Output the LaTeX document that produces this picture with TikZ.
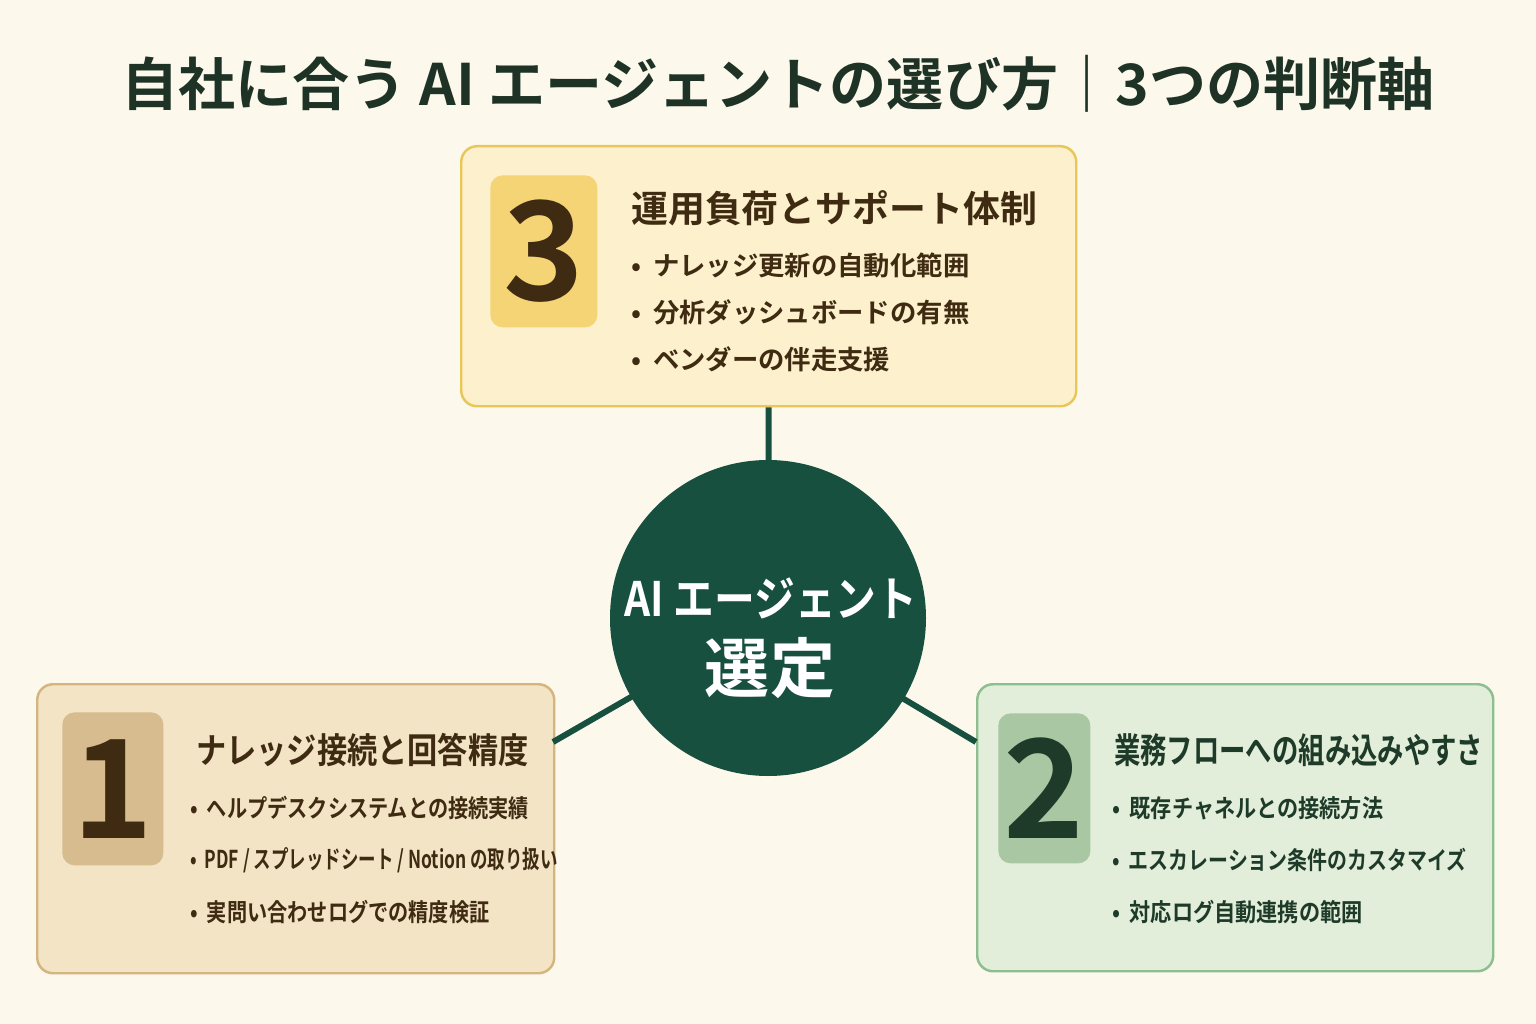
\documentclass[tikz,border=0pt]{standalone}
\usepackage{fontspec}
\setmainfont{Noto Sans CJK JP}[BoldFont={Noto Sans CJK JP Bold}]
\usetikzlibrary{arrows.meta}
\definecolor{bgcream}{HTML}{FCF8EC}
\definecolor{deepgreen}{HTML}{17503F}
\definecolor{titleink}{HTML}{1E3326}
\definecolor{brownink}{HTML}{3F2A12}
\definecolor{greenink}{HTML}{1E3B2A}
\definecolor{edge3}{HTML}{E8C659}
\definecolor{fill3}{HTML}{FCF1CC}
\definecolor{num3c}{HTML}{F5D476}
\definecolor{edge1}{HTML}{D4B57F}
\definecolor{fill1}{HTML}{F3E4C6}
\definecolor{num1c}{HTML}{D6BC8E}
\definecolor{edge2}{HTML}{8CBF8F}
\definecolor{fill2}{HTML}{E3EEDA}
\definecolor{num2c}{HTML}{A8C7A2}
\newcommand{\squeeze}[2]{\scalebox{#1}[1]{#2}}
\begin{document}
\begin{tikzpicture}[x=0.02cm,y=-0.02cm,font=\bfseries]
    \tikzstyle{card}=[rectangle,rounded corners=9pt,line width=1.4pt,anchor=north west,inner sep=0]
    \tikzstyle{numbox}=[rectangle,rounded corners=7pt,anchor=north west,inner sep=0]
    \tikzstyle{digit}=[font=\fontsize{78}{78}\selectfont\bfseries]
    \tikzstyle{head}=[anchor=west,font=\fontsize{20}{20}\selectfont\bfseries]
    \tikzstyle{item}=[anchor=west,font=\fontsize{14}{14}\selectfont\bfseries]
    \tikzstyle{link}=[deepgreen,line width=3.4pt]
    \fill [bgcream] (0,0) rectangle (1536,1024);
    \useasboundingbox (0,0) rectangle (1536,1024);
    % title
    \node (title) [titleink,font=\fontsize{32.5}{32.5}\selectfont\bfseries] at (778,84) {自社に合う AI エージェントの選び方｜3つの判断軸};
    % cards
    \node (box3) [card,draw=edge3,fill=fill3,minimum width=615*0.02cm,minimum height=260*0.02cm] at (460,145) {};
    \node (box1) [card,draw=edge1,fill=fill1,minimum width=517*0.02cm,minimum height=289*0.02cm] at (36,683) {};
    \node (box2) [card,draw=edge2,fill=fill2,minimum width=516*0.02cm,minimum height=287*0.02cm] at (976,683) {};
    \coordinate (end1) at (553,742);
    \coordinate (end2) at (976,742);
    \coordinate (hubc) at (768,618);
    \draw [link] (hubc) -- (box3.south);
    \draw [link] (hubc) -- (end1);
    \draw [link] (hubc) -- (end2);
    % hub
    \node (hub) [circle,fill=deepgreen,minimum size=316*0.02cm,inner sep=0] at (hubc) {};
    \node (hubtop) [white,font=\fontsize{27}{27}\selectfont\bfseries] at (771,598) {\squeeze{0.86}{AI エージェント}};
    \node (hubbot) [white,font=\fontsize{37}{37}\selectfont\bfseries] at (770,668) {選定};
    % card 3
    \node (num3) [numbox,fill=num3c,minimum width=107*0.02cm,minimum height=152*0.02cm] at (490,175) {};
    \node [digit,brownink] at (num3.center) {3};
    \node (head3) [head,brownink,font=\fontsize{21}{21}\selectfont\bfseries] at (625,208) {運用負荷とサポート体制};
    \node [item,brownink,font=\fontsize{15}{15}\selectfont\bfseries] at (625,265) {•\ \ ナレッジ更新の自動化範囲};
    \node [item,brownink,font=\fontsize{15}{15}\selectfont\bfseries] at (625,312) {•\ \ 分析ダッシュボードの有無};
    \node [item,brownink,font=\fontsize{15}{15}\selectfont\bfseries] at (625,359) {•\ \ ベンダーの伴走支援};
    % card 1
    \node (num1) [numbox,fill=num1c,minimum width=101*0.02cm,minimum height=153*0.02cm] at (62,712) {};
    \node [digit,brownink] at (num1.center) {1};
    \node (head1) [head,brownink] at (190,750) {\squeeze{0.86}{ナレッジ接続と回答精度}};
    \node [item,brownink] at (184,808) {\squeeze{0.82}{•\ \ ヘルプデスクシステムとの接続実績}};
    \node [item,brownink] at (184,860) {\squeeze{0.71}{•\ \ PDF / スプレッドシート / Notion の取り扱い}};
    \node [item,brownink] at (184,912) {\squeeze{0.82}{•\ \ 実問い合わせログでの精度検証}};
    % card 2
    \node (num2) [numbox,fill=num2c,minimum width=92*0.02cm,minimum height=150*0.02cm] at (998,713) {};
    \node [digit,greenink] at (num2.center) {2};
    \node (head2) [head,greenink] at (1108,750) {\squeeze{0.75}{業務フローへの組み込みやすさ}};
    \node [item,greenink] at (1106,808) {\squeeze{0.86}{•\ \ 既存チャネルとの接続方法}};
    \node [item,greenink] at (1106,860) {\squeeze{0.81}{•\ \ エスカレーション条件のカスタマイズ}};
    \node [item,greenink] at (1106,912) {\squeeze{0.86}{•\ \ 対応ログ自動連携の範囲}};
\end{tikzpicture}
\end{document}
